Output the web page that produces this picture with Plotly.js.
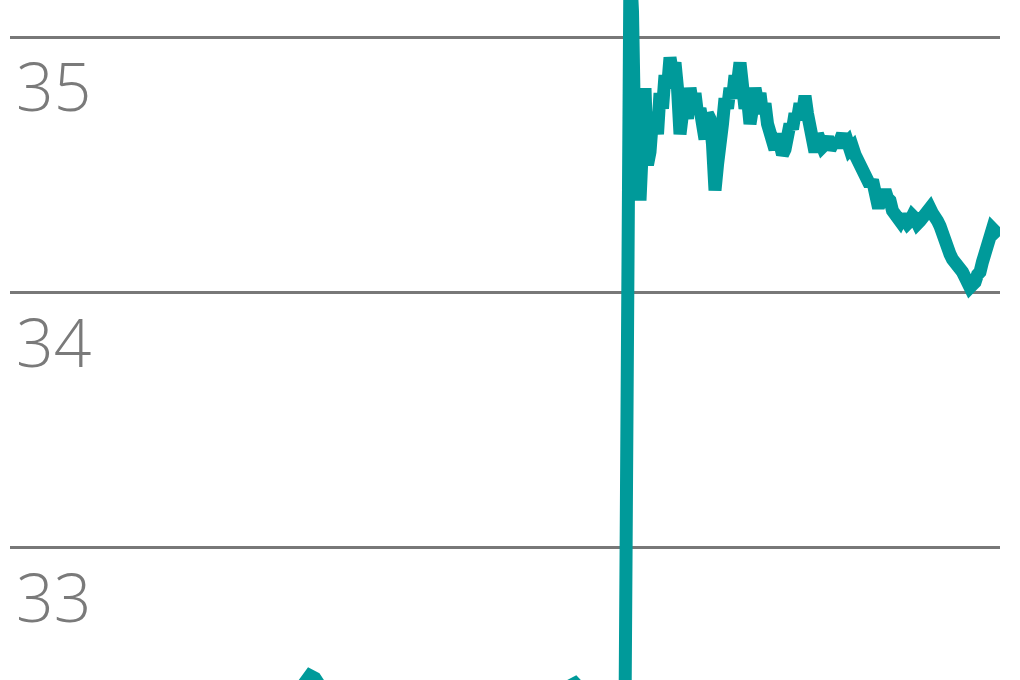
<!DOCTYPE html>
<html>
<head>
<meta charset="utf-8">
<script src="https://cdn.plot.ly/plotly-3.0.1.min.js"></script>
<style>
  html, body { margin: 0; padding: 0; background: #fff; }
  #chart { width: 1020px; height: 680px; }
</style>
</head>
<body>
<div id="chart"></div>
<script>
/* global Plotly */
const LINE_COLOR = '#009a9a';
const GRID_COLOR = '#787878';
const LABEL_COLOR = '#7a7a7a';

// readings before the jump, every second day (mostly below the visible window)
const valuesBefore = [
  32.05, 32.08, 32.04, 32.10, 32.12, 32.09, 32.14, 32.18, 32.15, 32.20,
  32.22, 32.19, 32.24, 32.21, 32.26, 32.23, 32.20, 32.25, 32.28, 32.24,
  32.27, 32.30, 32.26, 32.29, 32.32, 32.28, 32.31, 32.27, 32.30, 32.33,
  32.29, 32.32, 32.35, 32.31, 32.34, 32.30, 32.33, 32.36, 32.32, 32.35,
  32.38, 32.34, 32.37, 32.40, 32.36, 32.39, 32.35, 32.38, 32.41, 32.37,
  32.40, 32.43, 32.39, 32.42, 32.38, 32.41, 32.44, 32.42, 32.45, 32.47,
  32.50, 32.49, 32.46, 32.43, 32.40, 32.42, 32.38, 32.41, 32.37, 32.35,
  32.38, 32.34, 32.36, 32.33, 32.37, 32.34, 32.31, 32.35, 32.32, 32.36,
  32.33, 32.30, 32.34, 32.31, 32.35, 32.32, 32.36, 32.33, 32.37, 32.34,
  32.38, 32.35, 32.39, 32.36, 32.40, 32.37, 32.41, 32.38, 32.42, 32.39,
  32.43, 32.40, 32.38, 32.41, 32.39, 32.42, 32.40, 32.43, 32.41, 32.44,
  32.42, 32.45, 32.46, 32.47, 32.45, 32.43, 32.40, 32.42, 32.39, 32.41,
  32.38, 32.40, 32.37, 32.35
];

// daily readings from the jump on
const valuesAfter = [
  35.30, 35.10, 34.55, 34.75, 34.36, 34.62, 34.80, 34.50, 34.55, 34.68,
  34.70, 34.62, 34.78, 34.72, 34.85, 34.80, 34.92, 34.86, 34.90, 34.80,
  34.62, 34.70, 34.75, 34.68, 34.80, 34.74, 34.78, 34.70, 34.72, 34.66,
  34.60, 34.70, 34.68, 34.58, 34.40, 34.50, 34.55, 34.66, 34.76, 34.72,
  34.80, 34.76, 34.85, 34.82, 34.90, 34.80, 34.72, 34.76, 34.66, 34.72,
  34.80, 34.75, 34.78, 34.70, 34.74, 34.66, 34.62, 34.58, 34.56, 34.62,
  34.58, 34.54, 34.56, 34.62, 34.66, 34.64, 34.70, 34.68, 34.74, 34.70,
  34.77, 34.70, 34.62, 34.58, 34.55, 34.62, 34.60, 34.57, 34.58, 34.61,
  34.56, 34.59, 34.60, 34.57, 34.60, 34.62, 34.58, 34.59, 34.56, 34.57,
  34.54, 34.52, 34.50, 34.49, 34.47, 34.45, 34.42, 34.44, 34.37, 34.35,
  34.35, 34.38, 34.40, 34.37, 34.36, 34.32, 34.30, 34.29, 34.28, 34.30,
  34.29, 34.27, 34.28, 34.30, 34.29, 34.27, 34.28, 34.29, 34.30, 34.32,
  34.33, 34.31, 34.30, 34.28, 34.26, 34.22, 34.18, 34.17, 34.15, 34.13,
  34.12, 34.11, 34.10, 34.08, 34.06, 34.04, 34.02, 34.03, 34.04, 34.07,
  34.08, 34.12, 34.16, 34.20, 34.22, 34.25, 34.24, 34.23, 34.22
];

const tickValues = [33, 34, 35];
const tickLabels = ['33', '34', '35'];

// day numbers: two-day steps before the jump, one-day steps after it
const daysBefore = valuesBefore.map(function (v, i) { return 2 * i; });
const firstDayAfter = daysBefore[daysBefore.length - 1] + 2;
const daysAfter = valuesAfter.map(function (v, i) { return firstDayAfter + i; });

const X = daysBefore.concat(daysAfter);
const Y = valuesBefore.concat(valuesAfter);

const trace = {
  x: X,
  y: Y,
  type: 'scatter',
  mode: 'lines',
  line: { color: LINE_COLOR, width: 13 },
  hoverinfo: 'skip'
};

const layout = {
  width: 1020,
  height: 680,
  margin: { l: 10, r: 20, t: 0, b: 0 },
  paper_bgcolor: '#fff',
  plot_bgcolor: '#fff',
  showlegend: false,
  xaxis: {
    range: [0, X[X.length - 1]],
    showgrid: false,
    zeroline: false,
    showticklabels: false,
    showline: false,
    fixedrange: true
  },
  yaxis: {
    range: [32.483, 35.145],
    tickvals: tickValues,
    ticktext: tickLabels,
    ticklabelposition: 'inside bottom',
    ticklabelstandoff: 3,
    ticklabelshift: 5,
    ticks: '',
    showgrid: true,
    gridcolor: GRID_COLOR,
    gridwidth: 3,
    zeroline: false,
    showline: false,
    tickfont: { family: 'Open Sans', weight: 300, size: 66, color: LABEL_COLOR },
    fixedrange: true
  }
};

Plotly.newPlot('chart', [trace], layout, { staticPlot: true, displayModeBar: false });
</script>
</body>
</html>
